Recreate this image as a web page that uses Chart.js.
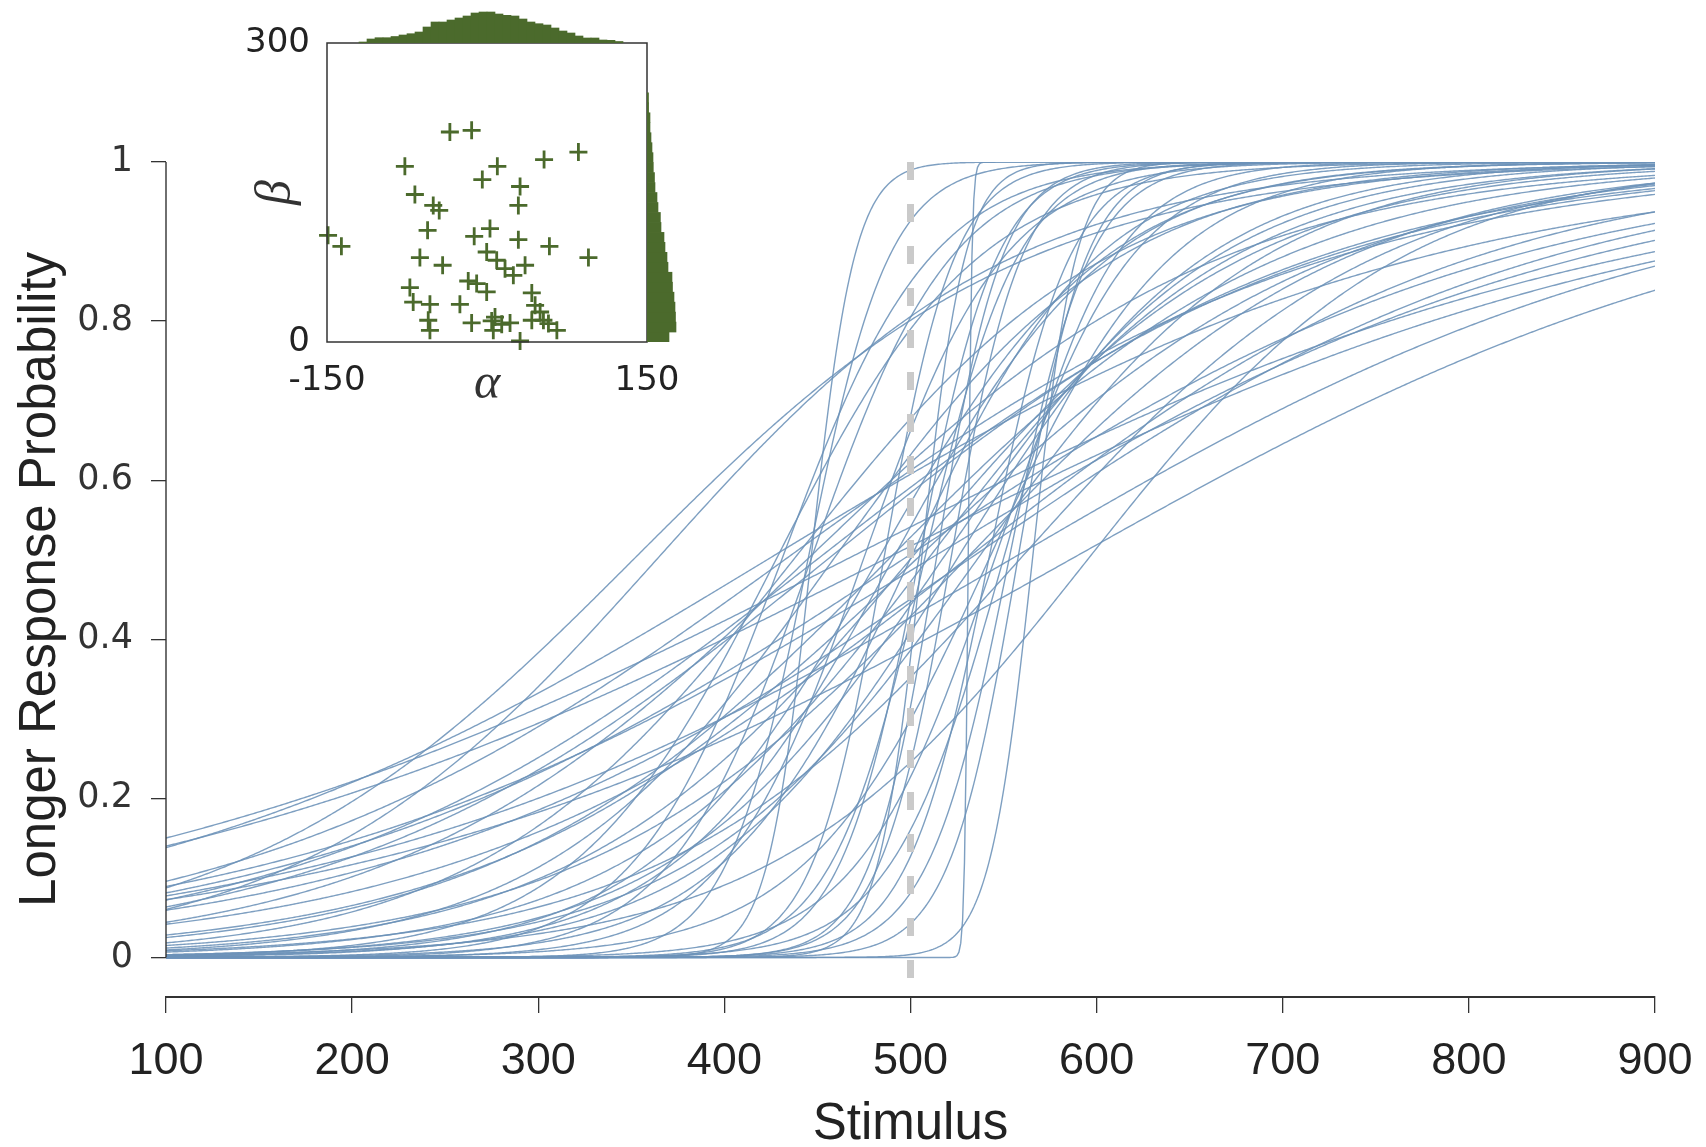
<!DOCTYPE html>
<html>
<head>
<meta charset="utf-8">
<title>Psychometric functions</title>
<script src="https://cdn.jsdelivr.net/npm/chart.js@4.4.1/dist/chart.umd.min.js"></script>
<style>
  html, body { margin: 0; padding: 0; background: #fff; }
  #wrap { position: relative; width: 1706px; height: 1147px; }
  canvas { position: absolute; }
</style>
</head>
<body>
<div id="wrap">
  <canvas id="mainChart" width="1706" height="1147" style="left:0;top:0"></canvas>
  <canvas id="paramChart" width="470" height="410" style="left:230px;top:0"></canvas>
  <canvas id="alphaHist" width="320" height="43" style="left:327px;top:0"></canvas>
  <canvas id="betaHist" width="45" height="299" style="left:647px;top:43px"></canvas>
</div>
<script>
// fitted parameters per observer: alpha = threshold shift from 500, beta = spread
const alpha = [-34.8, -14.4, -77, 9.7, 53.5, 85.7, -4.4, 31, -67.6, -50.4,
  -44.8, 29.4, -149, -136.5, -55.7, -12, 2.8, 29.4, 58.5, 95.1,
  -62.9, -41.6, -0.3, 9.1, 16.9, 24.7, 35.7, -17.6, -9.7, -0.3,
  -72.3, -69.2, -53.5, -25.4, 42, 45.1, 49.8, 52.9, 42, 65.5,
  -55.1, -53.5, -14.4, 4.4, 5.9, 13.8, 21.6, 31, 57.6, 7.5];
const beta = [210.7, 212.4, 176.3, 176.3, 183, 190.6, 163, 156, 148, 137,
  132, 137, 107, 96, 112, 106, 113.8, 102.7, 96, 84.7,
  84.7, 77, 90.3, 82, 73.6, 66.9, 77, 61.2, 58.6, 50.2,
  54.6, 40.1, 37.8, 37.8, 49.2, 36.8, 30.1, 21.8, 21.8, 11.7,
  21.8, 11.7, 19.1, 21.1, 11.7, 17.8, 19.1, 1, 18.5, 25];

// marginal histograms of the posterior samples
const alphaBinCenters = [-116.25, -108.75, -101.25, -93.75, -86.25, -78.75, -71.25, -63.75, -56.25, -48.75,
  -41.25, -33.75, -26.25, -18.75, -11.25, -3.75, 3.75, 11.25, 18.75, 26.25,
  33.75, 41.25, 48.75, 56.25, 63.75, 71.25, 78.75, 86.25, 93.75, 101.25,
  108.75, 116.25, 123.75];
const alphaCounts = [10, 40, 53, 53, 65, 80, 93, 110, 160, 210,
  210, 230, 250, 270, 300, 310, 310, 290, 277, 270,
  240, 210, 193, 180, 150, 120, 100, 70, 50, 50,
  30, 27, 15];
const betaBinCenters = [5, 15, 25, 35, 45, 55, 65, 75, 85, 95, 105, 115, 125,
  135, 145, 155, 165, 175, 185, 195, 205, 215, 225, 235, 245];
const betaCounts = [220, 290, 285, 280, 270, 255, 250, 210, 200, 180, 170, 140, 134,
  110, 100, 80, 75, 63, 60, 50, 40, 30, 30, 16, 15];

const stimulusTicks = [100, 200, 300, 400, 500, 600, 700, 800, 900];
const probTicks = [0, 0.2, 0.4, 0.6, 0.8, 1];
const standard = 500;

const curveColor = 'rgba(108, 146, 184, 0.88)';
const green = '#4b6a2c';
const sans = '"Liberation Sans", Arial, sans-serif';
const wide = '"DejaVu Sans", Verdana, sans-serif';
const serif = '"Liberation Serif", "DejaVu Serif", serif';
const yMin = -0.0497;

Chart.defaults.font.family = sans;

// stimulus grid the curves are evaluated on
const stimulus = [];
for (let s = 100; s <= 900; s++) stimulus.push(s);

function logistic(s, a, b) {
  return 1 / (1 + Math.exp(-(s - standard - a) / b));
}

const curveSets = alpha.map((a, i) => ({
  data: stimulus.map(s => ({ x: s, y: logistic(s, a, beta[i]) })),
  borderColor: curveColor,
  borderWidth: 1.4,
  pointRadius: 0,
  tension: 0,
  order: 1
}));

// y axis spine only spans 0..1, the x axis sits lower
const ySpine = {
  id: 'ySpine',
  afterDraw(chart) {
    const { ctx, chartArea, scales } = chart;
    ctx.save();
    ctx.strokeStyle = '#333';
    ctx.lineWidth = 1.4;
    ctx.beginPath();
    ctx.moveTo(chartArea.left, scales.y.getPixelForValue(0));
    ctx.lineTo(chartArea.left, scales.y.getPixelForValue(1));
    ctx.stroke();
    ctx.restore();
  }
};

new Chart(document.getElementById('mainChart'), {
  type: 'line',
  data: {
    datasets: [{
      data: [{ x: standard, y: 1 }, { x: standard, y: yMin }],
      borderColor: '#cacaca',
      borderWidth: 7,
      borderDash: [18, 24],
      pointRadius: 0,
      order: 0
    }].concat(curveSets)
  },
  options: {
    responsive: false,
    animation: false,
    devicePixelRatio: 1,
    normalized: true,
    layout: { padding: { left: 0, top: 162, right: 51, bottom: 0 } },
    plugins: { legend: { display: false }, tooltip: { enabled: false } },
    scales: {
      x: {
        type: 'linear',
        min: 100,
        max: 900,
        afterBuildTicks: s => { s.ticks = stimulusTicks.map(v => ({ value: v })); },
        afterFit: s => { s.height = 150; s.paddingLeft = 0; s.paddingRight = 38; },
        grid: { drawOnChartArea: false, tickLength: 16, color: '#333', lineWidth: 1.3 },
        border: { display: true, color: '#333', width: 2 },
        ticks: { padding: 22, maxRotation: 0, color: '#222', font: { size: 45 } },
        title: { display: true, text: 'Stimulus', color: '#222',
          font: { size: 51, lineHeight: 0.8 }, padding: { top: 0, bottom: 2 } }
      },
      y: {
        type: 'linear',
        min: yMin,
        max: 1,
        afterBuildTicks: s => { s.ticks = probTicks.map(v => ({ value: v })); },
        afterFit: s => { s.width = 166; },
        grid: { drawOnChartArea: false, tickLength: 15, color: '#333', lineWidth: 1.3 },
        border: { display: false },
        ticks: { padding: 18, color: '#333', font: { size: 35, family: wide },
          callback: v => String(v) },
        title: { display: true, text: 'Longer Response Probability', color: '#222',
          font: { size: 51 }, padding: { top: 10 } }
      }
    }
  },
  plugins: [ySpine]
});

// frame around the parameter scatter
const boxFrame = {
  id: 'boxFrame',
  afterDraw(chart) {
    const { ctx, chartArea: a } = chart;
    ctx.save();
    ctx.strokeStyle = '#333';
    ctx.lineWidth = 1.5;
    ctx.strokeRect(a.left, a.top, a.right - a.left, a.bottom - a.top);
    ctx.restore();
  }
};

new Chart(document.getElementById('paramChart'), {
  type: 'scatter',
  data: {
    datasets: [{
      data: alpha.map((a, i) => ({ x: a, y: beta[i] })),
      pointStyle: 'cross',
      pointRadius: 9,
      borderWidth: 2.8,
      borderColor: green,
      clip: false
    }]
  },
  options: {
    responsive: false,
    animation: false,
    devicePixelRatio: 1,
    layout: { padding: { left: 0, top: 43, right: 53, bottom: 0 } },
    plugins: { legend: { display: false }, tooltip: { enabled: false } },
    scales: {
      x: {
        type: 'linear', min: -150, max: 150,
        afterBuildTicks: s => { s.ticks = [{ value: -150 }, { value: 150 }]; },
        afterFit: s => { s.height = 68; },
        grid: { display: false, drawTicks: false },
        border: { display: false },
        ticks: { padding: 19, maxRotation: 0, color: '#222', font: { size: 34, family: wide } },
        title: { display: true, text: 'α', color: '#333',
          font: { size: 50, style: 'italic', family: serif, lineHeight: 1 },
          padding: { top: 0, bottom: 0 } }
      },
      y: {
        type: 'linear', min: 0, max: 300,
        afterBuildTicks: s => { s.ticks = [{ value: 0 }, { value: 300 }]; },
        afterFit: s => { s.width = 97; },
        grid: { display: false, drawTicks: false },
        border: { display: false },
        ticks: { padding: 17, color: '#222', font: { size: 34, family: wide } },
        title: { display: true, text: 'β', color: '#333',
          font: { size: 50, style: 'italic', family: serif, lineHeight: 1 },
          padding: { top: 22 } }
      }
    }
  },
  plugins: [boxFrame]
});

// alpha marginal above the frame
new Chart(document.getElementById('alphaHist'), {
  type: 'bar',
  data: {
    datasets: [{
      data: alphaBinCenters.map((c, i) => ({ x: c, y: alphaCounts[i] })),
      backgroundColor: green,
      barPercentage: 1,
      categoryPercentage: 1
    }]
  },
  options: {
    responsive: false,
    animation: false,
    devicePixelRatio: 1,
    plugins: { legend: { display: false }, tooltip: { enabled: false } },
    scales: {
      x: { type: 'linear', min: -150, max: 150, offset: false, display: false },
      y: { type: 'linear', min: 0, max: 430, display: false }
    }
  }
});

// beta marginal to the right of the frame
new Chart(document.getElementById('betaHist'), {
  type: 'bar',
  data: {
    datasets: [{
      data: betaBinCenters.map((c, i) => ({ x: betaCounts[i], y: c })),
      backgroundColor: green,
      barPercentage: 1,
      categoryPercentage: 1
    }]
  },
  options: {
    indexAxis: 'y',
    responsive: false,
    animation: false,
    devicePixelRatio: 1,
    plugins: { legend: { display: false }, tooltip: { enabled: false } },
    scales: {
      y: { type: 'linear', min: 0, max: 300, offset: false, display: false },
      x: { type: 'linear', min: 0, max: 450, display: false }
    }
  }
});
</script>
</body>
</html>
